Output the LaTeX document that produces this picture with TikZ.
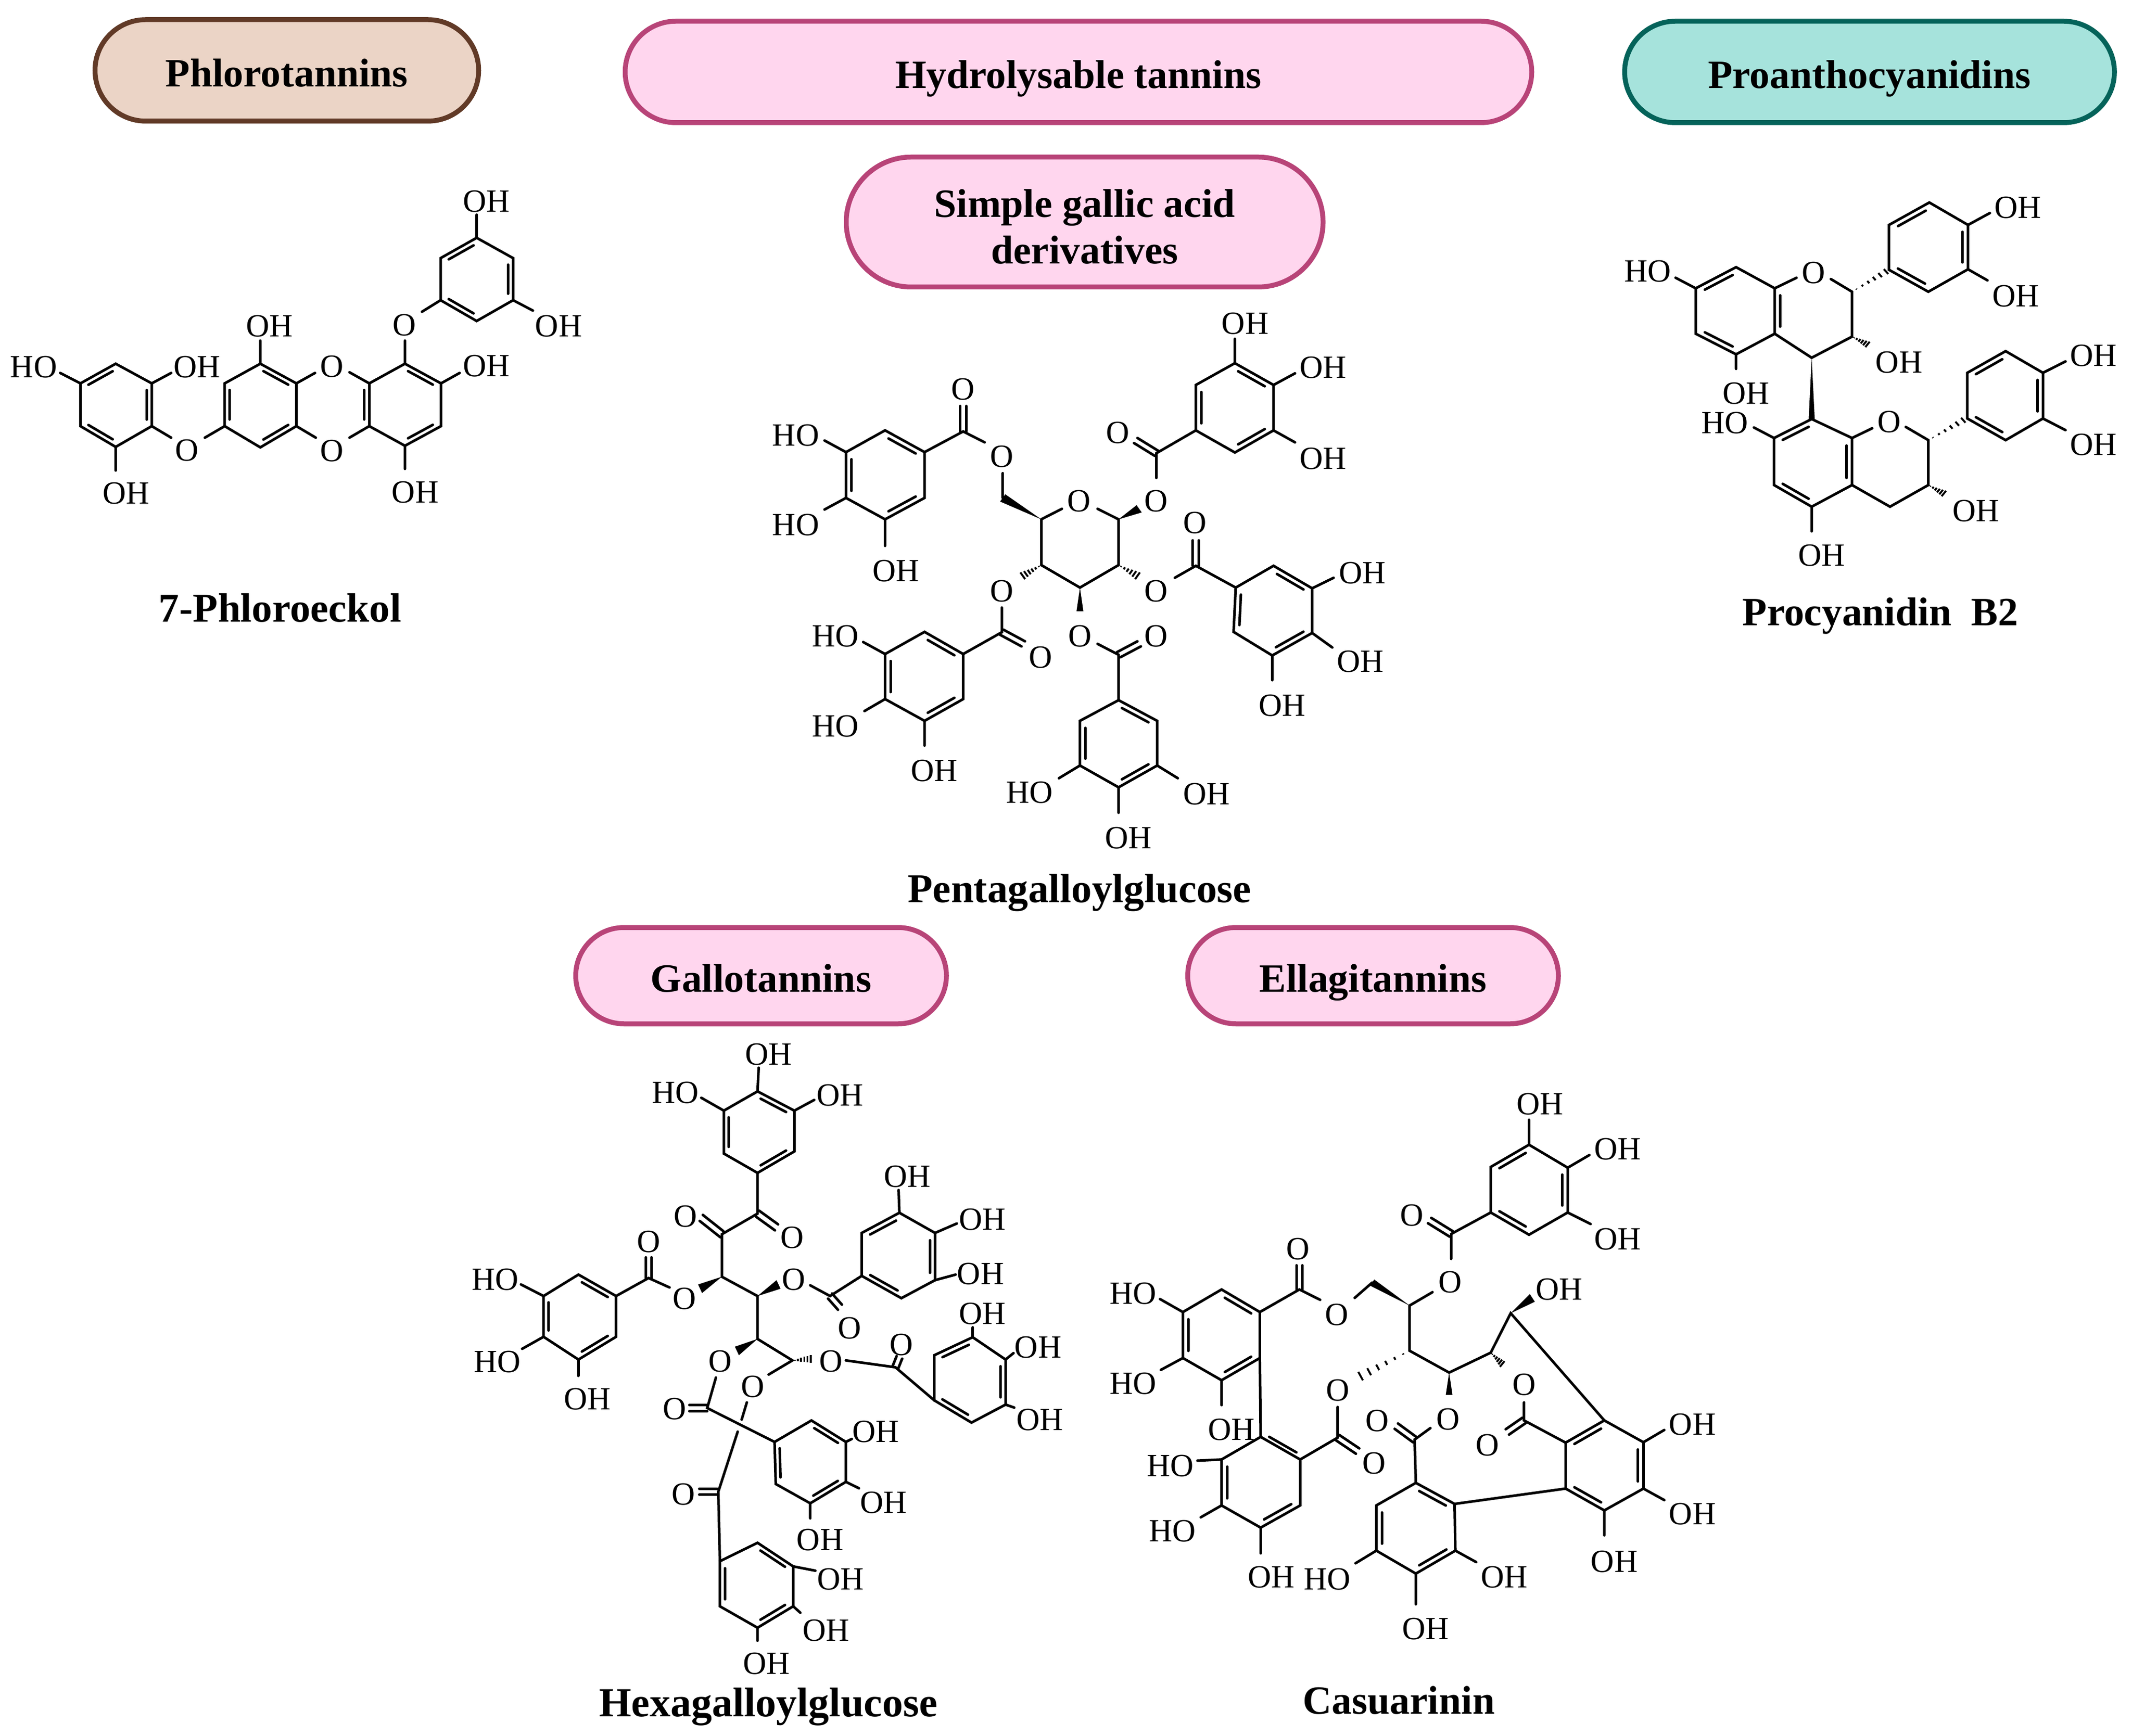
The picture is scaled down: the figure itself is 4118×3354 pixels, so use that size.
\documentclass[tikz,border=0pt]{standalone}
\usepackage{fontspec}
\setmainfont{Liberation Serif}
\usetikzlibrary{calc,shapes.misc}

\definecolor{cebd4c6}{RGB}{235,212,198}
\definecolor{c613a27}{RGB}{97,58,39}
\definecolor{cffd6ee}{RGB}{255,214,238}
\definecolor{cb84478}{RGB}{184,68,120}
\definecolor{ca6e3dc}{RGB}{166,227,220}
\definecolor{c05635a}{RGB}{5,99,90}

\tikzset{
  bond/.style={line width=1pt,line cap=round,line join=miter},
  hashline/.style={line width=0.75pt},
  atom/.style={font=\fontsize{12.5}{14}\selectfont,yshift=-0.6pt},
  title/.style={font=\fontsize{15.8}{18}\selectfont\bfseries,align=center},
  pill/.style={rounded rectangle,draw,line width=1.9pt,font=\fontsize{15.5}{18}\selectfont\bfseries,align=center},
  oneline/.style={text height=12.7pt,text depth=0pt},
  mola/.style={shift={(0,330)},xscale=1200/1568,yscale=700/1568},
  molb/.style={shift={(1450,560)},xscale=1300/1568,yscale=1100/1568},
  molc/.style={shift={(3100,330)},xscale=1018/1568,yscale=800/1568},
  mold/.style={shift={(880,1980)},xscale=1200/1568,yscale=1300/1568},
  mole/.style={shift={(2120,2060)},xscale=1260/1568,yscale=1160/1568}
}

% inner line of a double bond, towards point 3
\newcommand{\inbond}[3]{\coordinate (ia) at ($(#1)!.14!(#3)$);
  \coordinate (ib) at ($(#2)!.14!(#3)$);
  \draw[bond] ($(ia)!.1!(ib)$) -- ($(ib)!.1!(ia)$);}
% six ring, double bonds 1-2, 3-4, 5-6
\newcommand{\hexring}[6]{\draw[bond] (#1) -- (#2) -- (#3) -- (#4) -- (#5) -- (#6) -- cycle;
  \coordinate (rc) at ($(#1)!.5!(#4)$);
  \inbond{#1}{#2}{rc}\inbond{#3}{#4}{rc}\inbond{#5}{#6}{rc}}
% C=O, two lines apart by the vector 3
\newcommand{\dblbond}[3]{\draw[bond] ($(#1)+(#3)-(0,0)$) -- ($(#2)+(#3)-(0,0)$)
  ($(#1)-(#3)+(0,0)$) -- ($(#2)-(#3)+(0,0)$);}
\newcommand{\wdgbond}[3]{\fill ($(#2)+(#3)-(0,0)$) -- (#1) -- ($(#2)-(#3)+(0,0)$) -- cycle;}
\newcommand{\hshbond}[3]{\foreach \hh in {.12,.28,.44,.6,.76,.92}{
  \draw[hashline] ($(#1)!\hh!(#2)+\hh*(#3)-\hh*(0,0)$) -- ($(#1)!\hh!(#2)-\hh*(#3)+\hh*(0,0)$);}}

\begin{document}
\begin{tikzpicture}[y=0.2pt, x=0.2pt,yscale=-1, inner sep=0pt, outer sep=0pt]
  \useasboundingbox (0,0) rectangle (4118,3354);

  % headers
  \node[pill,oneline,fill=cebd4c6,draw=c613a27,minimum width=148.2pt,minimum height=39.2pt] (phloro) at (554,136) {Phlorotannins};
  \node[pill,oneline,fill=cffd6ee,draw=cb84478,minimum width=350.2pt,minimum height=39.2pt] (hydro) at (2083,139) {Hydrolysable tannins};
  \node[pill,oneline,fill=ca6e3dc,draw=c05635a,minimum width=189.2pt,minimum height=39.2pt] (proan) at (3611,139) {Proanthocyanidins};
  \node[pill,fill=cffd6ee,draw=cb84478,minimum width=184.2pt,minimum height=50.2pt] (simple) at (2095,429) {\rule{0pt}{14.5pt}Simple gallic acid\\derivatives};
  \node[pill,oneline,fill=cffd6ee,draw=cb84478,minimum width=143.2pt,minimum height=37.2pt] (gallo) at (1470,1885) {Gallotannins};
  \node[pill,oneline,fill=cffd6ee,draw=cb84478,minimum width=143.2pt,minimum height=37.2pt] (ellag) at (2652,1885) {Ellagitannins};

  % names
  \node[title] (name-a) at (541,1174) {7-Phloroeckol};
  \node[title] (name-b) at (2085,1725) {Pentagalloylglucose};
  \node[title,font=\fontsize{15.5}{18}\selectfont\bfseries] (name-c) at (3632,1190) {Procyanidin\ \ B2};
  \node[title,font=\fontsize{16}{18}\selectfont\bfseries] (name-d) at (1484,3298) {Hexagalloylglucose};
  \node[title,font=\fontsize{15.5}{18}\selectfont\bfseries] (name-e) at (2702,3285) {Casuarinin};

  \begin{scope}[mola]% 7-phloroeckol
    % ring-top
    \hexring{1203,290}{1112,378}{1112,560}{1203,650}{1295,560}{1295,378}
    \draw[bond] (1203,290) -- (1203,190) (1295,560) -- (1345,605) (1112,560) -- (1065,610) (1022,735) -- (1022,835);
    % ring-right
    \draw[bond] (1022,835) -- (1113,920) -- (1113,1105) -- (1022,1190) -- (932,1105) -- (932,920) -- cycle;
    \coordinate (cr) at (1022,1012);
    \coordinate (cd) at (838,1012);
    \inbond{1022,835}{1113,920}{cr}
    \inbond{1113,1105}{1022,1190}{cr}
    \inbond{932,1105}{932,920}{cd}
    \draw[bond] (1113,920) -- (1160,875) (1022,1190) -- (1022,1290);
    % dioxin
    \draw[bond] (932,920) -- (882,872) (748,920) -- (795,875) (932,1105) -- (882,1155) (748,1105) -- (797,1155);
    % ring-mid
    \draw[bond] (657,835) -- (748,920) -- (748,1105) -- (657,1197) -- (567,1105) -- (567,920) -- cycle;
    \coordinate (cm) at (657,1012);
    \inbond{657,835}{748,920}{cm}
    \inbond{748,1105}{657,1197}{cm}
    \inbond{567,1105}{567,920}{cm}
    \draw[bond] (657,835) -- (657,735) (567,1105) -- (517,1155) (383,1105) -- (432,1155);
    % ring-left
    \hexring{292,835}{203,920}{203,1105}{292,1195}{383,1105}{383,920}
    \draw[bond] (203,920) -- (152,875) (383,920) -- (432,875) (292,1195) -- (292,1297);
    % labels
    \node[atom] (a1) at (1228,125) {OH};
    \node[atom] (a2) at (1410,665) {OH};
    \node[atom] (a3) at (1020,660) {O};
    \node[atom] (a4) at (680,665) {OH};
    \node[atom] (a5) at (1228,838) {OH};
    \node[atom] (a6) at (838,840) {O};
    \node[atom] (a7) at (838,1205) {O};
    \node[atom] (a8) at (1048,1385) {OH};
    \node[atom] (a9) at (472,1203) {O};
    \node[atom] (a10) at (85,843) {HO};
    \node[atom] (a11) at (497,843) {OH};
    \node[atom] (a12) at (318,1388) {OH};
  \end{scope}

  \begin{scope}[molb]% pentagalloylglucose
    % sugar
    \draw[bond] (677,632) -- (725,603) (808,603) -- (857,632) -- (857,758) -- (767,820) -- (677,758) -- (677,632);
    \wdgbond{857,632}{905,603}{6,10}
    \wdgbond{677,632}{587,573}{-6,10}
    \hshbond{857,758}{905,790}{-6,10}
    \hshbond{677,758}{630,790}{6,10}
    \wdgbond{767,820}{767,885}{8,0}
    % galloyl-6
    \draw[bond] (587,573) -- (587,505) (545,420) -- (495,390) -- (405,447);
    \dblbond{495,390}{495,320}{7,0}
    \hexring{405,447}{313,387}{222,447}{222,573}{313,632}{405,573}
    \draw[bond] (222,447) -- (172,415) (222,573) -- (172,605) (313,632) -- (313,705);
    % galloyl-1
    \draw[bond] (945,518) -- (945,450) -- (1037,387);
    \dblbond{945,450}{897,415}{4,-7}
    \hexring{1037,387}{1037,262}{1128,202}{1218,262}{1218,387}{1128,448}
    \draw[bond] (1128,202) -- (1128,135) (1218,262) -- (1268,230) (1218,387) -- (1268,420);
    % galloyl-2
    \draw[bond] (988,793) -- (1037,760) -- (1130,820);
    \dblbond{1037,760}{1037,690}{7,0}
    \hexring{1130,820}{1125,942}{1215,1007}{1308,945}{1308,822}{1218,760}
    \draw[bond] (1308,822) -- (1358,793) (1308,945) -- (1355,985) (1215,1007) -- (1215,1075);
    % galloyl-3
    \draw[bond] (808,975) -- (857,1005) -- (857,1130);
    \dblbond{857,1005}{905,975}{4,7}
    \hexring{857,1130}{947,1187}{947,1310}{857,1370}{767,1310}{767,1187}
    \draw[bond] (767,1310) -- (718,1345) (947,1310) -- (995,1345) (857,1370) -- (857,1440);
    % galloyl-4
    \draw[bond] (585,875) -- (585,943) -- (495,1003);
    \dblbond{585,943}{635,975}{4,-7}
    \hexring{495,1003}{405,942}{313,1003}{313,1127}{405,1187}{495,1127}
    \draw[bond] (313,1003) -- (262,970) (313,1127) -- (265,1160) (405,1187) -- (405,1255);
    % labels
    \node[atom] (b1) at (765,578) {O};
    \node[atom] (b2) at (945,578) {O};
    \node[atom] (b3) at (585,455) {O};
    \node[atom] (b4) at (495,270) {O};
    \node[atom] (b5) at (105,397) {HO};
    \node[atom] (b6) at (105,643) {HO};
    \node[atom] (b7) at (338,770) {OH};
    \node[atom] (b8) at (855,390) {O};
    \node[atom] (b9) at (1152,88) {OH};
    \node[atom] (b10) at (1333,210) {OH};
    \node[atom] (b11) at (1333,460) {OH};
    \node[atom] (b12) at (945,825) {O};
    \node[atom] (b13) at (1035,638) {O};
    \node[atom] (b14) at (1425,775) {OH};
    \node[atom] (b15) at (1420,1020) {OH};
    \node[atom] (b16) at (1238,1140) {OH};
    \node[atom] (b17) at (767,950) {O};
    \node[atom] (b18) at (945,950) {O};
    \node[atom] (b19) at (650,1380) {HO};
    \node[atom] (b20) at (1062,1385) {OH};
    \node[atom] (b21) at (880,1505) {OH};
    \node[atom] (b22) at (585,825) {O};
    \node[atom] (b23) at (675,1008) {O};
    \node[atom] (b24) at (197,950) {HO};
    \node[atom] (b25) at (197,1197) {HO};
    \node[atom] (b26) at (428,1320) {OH};
  \end{scope}

  \begin{scope}[molc]% procyanidin
    % upper unit
    \draw[bond] (270,445) -- (270,617) -- (390,695) -- (505,617) -- (505,445) -- (390,365) -- cycle;
    \coordinate (ca) at (390,530);
    \coordinate (cb) at (620,530);
    \inbond{270,445}{390,365}{ca}
    \inbond{270,617}{390,695}{ca}
    \inbond{505,617}{505,445}{cb}
    \draw[bond] (505,445) -- (570,405) (672,410) -- (735,458) -- (735,628) -- (615,708) -- (505,617);
    \hshbond{735,458}{845,375}{7,10}
    \hexring{845,205}{965,120}{1080,205}{1080,373}{962,458}{845,375}
    \draw[bond] (1080,205) -- (1145,160) (1080,373) -- (1138,415) (270,445) -- (210,405) (390,695) -- (390,750);
    \hshbond{735,628}{785,660}{-7,11}
    \wdgbond{615,708}{615,940}{9,0}
    % lower unit
    \draw[bond] (615,940) -- (735,1012) -- (735,1190) -- (615,1272) -- (503,1190) -- (503,1012) -- cycle;
    \coordinate (cc) at (619,1106);
    \inbond{615,940}{503,1012}{cc}
    \inbond{503,1190}{615,1272}{cc}
    \inbond{735,1012}{735,1190}{cc}
    \draw[bond] (503,1012) -- (443,972) (615,1272) -- (615,1365);
    \draw[bond] (735,1012) -- (795,975) (895,970) -- (962,1020) -- (962,1190) -- (848,1272) -- (735,1190);
    \hshbond{962,1020}{1075,938}{7,10}
    \hexring{1078,765}{1192,683}{1303,765}{1303,938}{1192,1020}{1078,938}
    \draw[bond] (1303,765) -- (1370,722) (1303,938) -- (1370,982);
    \hshbond{962,1190}{1012,1225}{-7,11}
    % labels
    \node[atom] (c1) at (620,380) {O};
    \node[atom] (c2) at (1228,133) {OH};
    \node[atom] (c3) at (1222,468) {OH};
    \node[atom] (c4) at (875,720) {OH};
    \node[atom] (c5) at (127,375) {HO};
    \node[atom] (c6) at (420,838) {OH};
    \node[atom] (c7) at (357,948) {HO};
    \node[atom] (c8) at (645,1450) {OH};
    \node[atom] (c9) at (845,945) {O};
    \node[atom] (c10) at (1453,695) {OH};
    \node[atom] (c11) at (1453,1032) {OH};
    \node[atom] (c12) at (1103,1282) {OH};
  \end{scope}

  \begin{scope}[mold]% hexagalloylglucose
    % top galloyl
    \hexring{762,345}{855,295}{855,200}{762,155}{677,200}{677,300}
    \draw[bond] (762,155) -- (765,100) (677,200) -- (620,170) (855,200) -- (905,175);
    \draw[bond] (762,345) -- (762,440) -- (672,488) -- (672,587) -- (762,632) -- (762,732) -- (850,782) -- (790,815);
    \dblbond{762,440}{810,472}{4,-7}
    \dblbond{672,488}{620,450}{-4,7}
    \wdgbond{672,587}{617,615}{5,10}
    \wdgbond{762,632}{815,605}{5,10}
    \wdgbond{762,732}{710,760}{5,10}
    \hshbond{850,782}{900,778}{0,10}
    % left galloyl
    \draw[bond] (540,612) -- (487,590) -- (405,632);
    \dblbond{487,590}{487,542}{7,0}
    \hexring{405,632}{310,582}{222,632}{222,727}{310,780}{405,727}
    \draw[bond] (222,632) -- (165,605) (222,727) -- (168,755) (310,780) -- (310,818);
    % right upper galloyl
    \draw[bond] (895,607) -- (945,632) -- (1025,585);
    \dblbond{945,632}{970,658}{5,-6}
    \hexring{1025,485}{1120,438}{1210,485}{1210,595}{1125,637}{1025,585}
    \draw[bond] (1120,438) -- (1118,385) (1210,485) -- (1265,463) (1210,595) -- (1262,582);
    % right galloyl
    \draw[bond] (985,782) -- (1110,798) -- (1208,875);
    \dblbond{1110,798}{1120,775}{7,3}
    \hexring{1208,770}{1305,728}{1388,780}{1388,885}{1302,927}{1208,875}
    \draw[bond] (1305,728) -- (1305,705) (1388,780) -- (1408,765) (1388,885) -- (1410,892);
    % lower galloyl
    \draw[bond] (657,822) -- (635,893) -- (805,972);
    \dblbond{635,893}{590,893}{0,7}
    \hexring{805,972}{808,1070}{895,1115}{985,1065}{985,972}{898,922}
    \draw[bond] (985,972) -- (1000,965) (985,1065) -- (1018,1080) (895,1115) -- (895,1150);
    % bottom galloyl
    \draw[bond] (735,880) -- (722,920) (712,948) -- (663,1088) -- (667,1250);
    \dblbond{660,1088}{615,1088}{0,7}
    \hexring{667,1250}{667,1355}{762,1405}{852,1355}{852,1262}{762,1207}
    \draw[bond] (852,1262) -- (908,1272) (852,1355) -- (870,1370) (762,1405) -- (762,1435);
    % labels
    \node[atom] (d1) at (790,65) {OH};
    \node[atom] (d2) at (555,155) {HO};
    \node[atom] (d3) at (970,160) {OH};
    \node[atom] (d4) at (850,492) {O};
    \node[atom] (d5) at (580,443) {O};
    \node[atom] (d6) at (577,635) {O};
    \node[atom] (d7) at (853,590) {O};
    \node[atom] (d8) at (668,780) {O};
    \node[atom] (d9) at (948,780) {O};
    \node[atom] (d10) at (750,840) {O};
    \node[atom] (d11) at (488,502) {O};
    \node[atom] (d12) at (100,590) {HO};
    \node[atom] (d13) at (105,782) {HO};
    \node[atom] (d14) at (333,868) {OH};
    \node[atom] (d15) at (995,703) {O};
    \node[atom] (d16) at (1140,350) {OH};
    \node[atom] (d17) at (1330,450) {OH};
    \node[atom] (d18) at (1325,577) {OH};
    \node[atom] (d19) at (1125,742) {O};
    \node[atom] (d20) at (1330,670) {OH};
    \node[atom] (d21) at (1470,748) {OH};
    \node[atom] (d22) at (1475,917) {OH};
    \node[atom] (d23) at (553,892) {O};
    \node[atom] (d24) at (1060,945) {OH};
    \node[atom] (d25) at (1080,1110) {OH};
    \node[atom] (d26) at (920,1197) {OH};
    \node[atom] (d27) at (575,1090) {O};
    \node[atom] (d28) at (972,1288) {OH};
    \node[atom] (d29) at (935,1408) {OH};
    \node[atom] (d30) at (785,1485) {OH};
  \end{scope}

  \begin{scope}[mole]% casuarinin
    % top galloyl
    \hexring{1037,440}{945,382}{945,263}{1037,205}{1130,265}{1130,382}
    \draw[bond] (1037,205) -- (1037,140) (1130,265) -- (1182,232) (1130,382) -- (1185,412);
    \draw[bond] (945,382) -- (850,438) -- (850,503) (805,590) -- (750,625) -- (750,743) -- (845,800) -- (945,748) -- (993,645) -- (1218,925);
    \dblbond{850,438}{798,403}{4,-7}
    % chain
    \wdgbond{750,625}{660,565}{-5,8}
    \draw[bond] (660,565) -- (618,605) (535,610) -- (485,583) -- (390,642);
    \dblbond{485,583}{485,520}{7,0}
    \hshbond{750,743}{622,815}{6,12}
    \wdgbond{845,800}{845,858}{8,0}
    \wdgbond{993,645}{1045,605}{6,10}
    \hshbond{945,748}{975,780}{-6,8}
    % ring-ul
    \hexring{390,642}{298,583}{205,642}{205,762}{298,820}{390,762}
    \draw[bond] (205,642) -- (150,608) (205,762) -- (152,793) (298,820) -- (298,885) (390,762) -- (392,968);
    % ring-ll
    \draw[bond] (392,968) -- (487,1027) -- (487,1147) -- (392,1205) -- (298,1147) -- (298,1027) -- cycle;
    \coordinate (cl) at (392,1087);
    \coordinate (cu) at (480,930);
    \inbond{392,968}{487,1027}{cu}
    \inbond{487,1147}{392,1205}{cl}
    \inbond{298,1147}{298,1027}{cl}
    \draw[bond] (298,1027) -- (240,1030) (298,1147) -- (248,1178) (392,1205) -- (392,1272);
    \draw[bond] (487,1027) -- (577,970) -- (577,890);
    \dblbond{577,970}{625,1005}{4,-7}
    % ring-bottom
    \draw[bond] (800,945) -- (762,975) -- (765,1088);
    \dblbond{762,975}{718,940}{4,-7}
    \hexring{765,1088}{858,1143}{860,1265}{765,1325}{670,1265}{670,1147}
    \draw[bond] (670,1265) -- (620,1298) (860,1265) -- (910,1295) (765,1325) -- (765,1405) (858,1143) -- (1125,1103);
    % ring-right
    \draw[bond] (1025,878) -- (1025,925) -- (1125,983);
    \dblbond{1025,925}{985,955}{4,7}
    \hexring{1125,983}{1218,925}{1312,982}{1312,1103}{1218,1160}{1125,1103}
    \draw[bond] (1312,982) -- (1362,950) (1312,1103) -- (1362,1133) (1218,1160) -- (1218,1225);
    % labels
    \node[atom] (e1) at (1063,95) {OH};
    \node[atom] (e2) at (1250,213) {OH};
    \node[atom] (e3) at (1250,447) {OH};
    \node[atom] (e4) at (755,385) {O};
    \node[atom] (e5) at (848,560) {O};
    \node[atom] (e6) at (575,645) {O};
    \node[atom] (e7) at (482,473) {O};
    \node[atom] (e8) at (85,590) {HO};
    \node[atom] (e9) at (85,825) {HO};
    \node[atom] (e10) at (322,945) {OH};
    \node[atom] (e11) at (175,1040) {HO};
    \node[atom] (e12) at (180,1210) {HO};
    \node[atom] (e13) at (418,1330) {OH};
    \node[atom] (e14) at (665,1033) {O};
    \node[atom] (e15) at (577,842) {O};
    \node[atom] (e16) at (842,918) {O};
    \node[atom] (e17) at (672,922) {O};
    \node[atom] (e18) at (552,1335) {HO};
    \node[atom] (e19) at (978,1330) {OH};
    \node[atom] (e20) at (788,1465) {OH};
    \node[atom] (e21) at (1110,578) {OH};
    \node[atom] (e22) at (1025,828) {O};
    \node[atom] (e23) at (937,985) {O};
    \node[atom] (e24) at (1430,932) {OH};
    \node[atom] (e25) at (1430,1165) {OH};
    \node[atom] (e26) at (1242,1290) {OH};
  \end{scope}

\end{tikzpicture}
\end{document}
